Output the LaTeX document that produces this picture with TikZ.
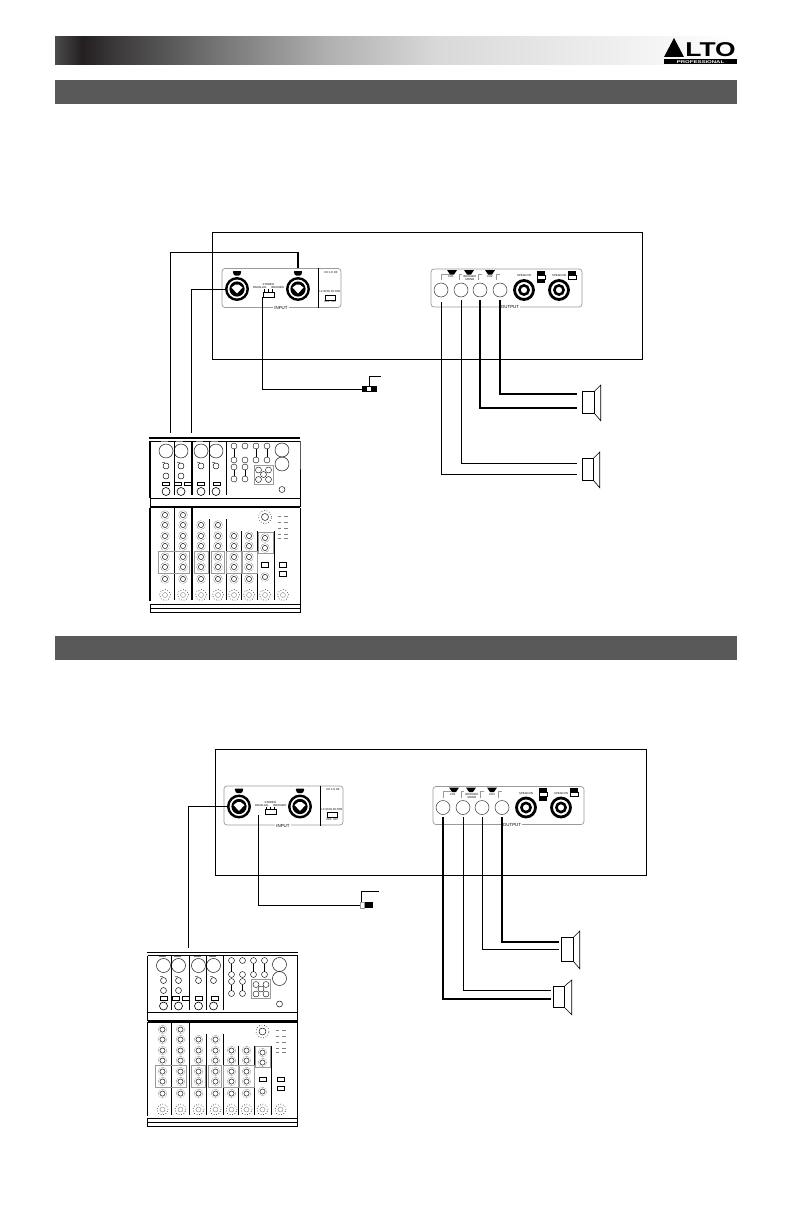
\documentclass[tikz,border=0pt]{standalone}
\usepackage{fontspec}
\setmainfont{Liberation Sans}
\usepackage{xcolor}
\usetikzlibrary{positioning,fit,calc}
\definecolor{bargray}{HTML}{595959}
\definecolor{panelgray}{HTML}{9A9A9A}
\pgfdeclarehorizontalshading{headshade}{100bp}{
  rgb(0bp)=(.30,.30,.30); rgb(25bp)=(.30,.30,.30); rgb(27bp)=(.14,.12,.13); rgb(29bp)=(.22,.21,.21);
  rgb(36bp)=(.43,.43,.43); rgb(45bp)=(.69,.69,.69); rgb(53bp)=(.85,.85,.85);
  rgb(65bp)=(.93,.93,.93); rgb(75bp)=(1,1,1); rgb(100bp)=(1,1,1)}
\tikzset{
  cable/.style={line width=.9pt},
  heavycable/.style={line width=1.2pt},
  panelbox/.style={draw=panelgray,line width=.7pt,rounded corners=3pt,inner sep=0pt,fill=white},
  tinytext/.style={font=\fontsize{2.8}{3}\selectfont,inner sep=0pt},
  legendtext/.style={font=\fontsize{4.4}{5}\selectfont,fill=white,inner sep=1pt},
  lowjack/.style={circle,draw=black!80,line width=.5pt,minimum size=14pt,inner sep=0pt},
  switchbox/.style={draw,fill=white,line width=.7pt,inner sep=0pt},
}
% one combo socket, with its latch on top
\newcommand\combojack[3]{
  \fill[rounded corners=1pt] (#2-4.5,#3-18) -- (#2+4.5,#3-18) -- (#2+3,#3-13.5) -- (#2-3,#3-13.5) -- cycle;
  \node[circle,draw,line width=2.4pt,fill=white,minimum size=21.5pt,inner sep=0pt] (#1) at (#2,#3) {};
  \fill (#2,#3) circle (7.6pt);
  \fill[white] (#2-5.5,#3-1.5) -- (#2-1.5,#3-4.5) -- (#2+1.5,#3-4.5) -- (#2+5.5,#3-1.5) -- (#2,#3+4.5) -- cycle;
}
\newcommand\speakon[3]{
  \node[circle,draw,line width=2.8pt,fill=white,minimum size=19pt,inner sep=0pt] (#1) at (#2,#3) {};
  \draw[line width=2.6pt] (#2,#3) circle (4.6pt);
}
% the input plate
\newcommand\inplate[3]{
  \begin{scope}[shift={(#2,#3)}]
    \node[panelbox,minimum width=119pt,minimum height=39pt] (#1) at (281.5,288) {};
    \draw[line width=.9pt] (318,268) -- (318,308);
    \combojack{#1l}{237}{289}
    \combojack{#1r}{298}{289}
    \node[switchbox,minimum width=11pt,minimum height=5pt] (#1sw) at (268.5,294.5) {};
    \node[switchbox,minimum width=10pt,minimum height=5pt] (#1lf) at (330,297.5) {};
    \foreach \sx in {264.5,268.5,272.5} \draw[line width=.4pt] (\sx,289) -- (\sx,292);
    \node[tinytext] (#1st) at (268.5,285) {STEREO};
    \node[tinytext] (#1pa) at (260,288) {PARALLEL};
    \node[tinytext] (#1br) at (278,288) {BRIDGED};
    \node[tinytext] (#1ch) at (331,272) {CH 1/2 HF};
    \node[tinytext] (#1fi) at (330,292) {LF 80Hz FILTER};
    \node[tinytext] (#1of) at (330,302) {OFF\ \ ON};
    \node[legendtext] (#1tx) at (281,308) {INPUT};
  \end{scope}
}
% the output plate
\newcommand\outplate[3]{
  \begin{scope}[shift={(#2,#3)}]
    \node[panelbox,minimum width=151pt,minimum height=38pt] (#1) at (506.5,288) {};
    \node[lowjack] (#1a) at (441,290) {};
    \node[lowjack] (#1b) at (461,290) {};
    \node[lowjack] (#1c) at (480,290) {};
    \node[lowjack] (#1d) at (500,290) {};
    \speakon{#1e}{524}{290}
    \speakon{#1f}{559}{290}
    \foreach \tx in {452,469,490} \fill (\tx-5,270) -- (\tx+5,270) -- (\tx+2,274.5) -- (\tx-2,274.5) -- cycle;
    \foreach \bx/\bw in {441/450,459/462,478/482,496/500} \draw[panelgray,line width=.4pt] (\bx,280) -- (\bx,274) -- (\bw,274);
    \foreach \bx in {541,572} \fill (\bx-4,270.5) rectangle (\bx+4,275);
    \fill (537,279) rectangle (545,283);
    \draw[line width=.4pt] (537,275) rectangle (545,279);
    \draw[line width=.4pt] (568,275) rectangle (576,279);
    \node[tinytext] (#1ca) at (451,277) {CH1};
    \node[tinytext,align=center] (#1cb) at (470,278.5) {BRIDGED\\MONO};
    \node[tinytext] (#1cc) at (490,277) {CH2};
    \node[tinytext] (#1sa) at (524,276) {SPEAKON};
    \node[tinytext] (#1sb) at (559,276) {SPEAKON};
    \node[legendtext] (#1tx) at (510,307) {OUTPUT};
  \end{scope}
}
% speaker: box, then the cone
\newcommand\speakerbox[6]{
  \node[draw,line width=.7pt,inner sep=0pt,minimum width=#4pt,minimum height=#5pt,anchor=north west] (#1) at (#2,#3) {};
  \draw[line width=.6pt] (#1.north east) -- ++(#6,-6) -- ($(#1.south east)+(#6,7)$) -- (#1.south east);
}
% the mixer
\newcommand\mixerfront[3]{
  \begin{scope}[shift={(#2,#3)}]
    \coordinate (#1a) at (170,433);
    \coordinate (#1b) at (191,433);
    \draw[line width=1.2pt] (149,438) -- (300,438);
    \draw[line width=.9pt] (150,441) -- (300,441);
    \draw[line width=1.2pt] (150,441) -- (150,498);
    \draw[line width=.6pt] (300,441) -- (300,498) -- (150,498) -- (150,506) -- (300,506) -- cycle;
    \draw[line width=1.2pt] (150,507.5) -- (300,507.5);
    \draw[line width=1.2pt] (150,507.5) -- (150,601);
    \draw[line width=.6pt] (300,507.5) -- (300,604);
    \draw[line width=.6pt] (150,604) rectangle (300,612);
    \draw[line width=.8pt] (150,608) -- (300,608);
    % back row
    \foreach \dx/\dw in {174/.9,192/1.4,209/.9,226/.9} \draw[line width=\dw pt] (\dx,441) -- (\dx,495);
    \foreach \kx in {166,181,201,216}{
      \draw[line width=.45pt] (\kx,451) circle (7pt);
      \draw[line width=.45pt] (\kx,466) circle (3pt);
      \draw[line width=.6pt] (\kx,491.5) circle (4pt);
      \draw[line width=.3pt,gray] (\kx-5,441.5) -- (\kx+2,441.5);
      \draw[line width=.3pt,gray] (\kx-4,462) -- (\kx-1,462);
    }
    \foreach \kx in {166,181} \draw[line width=.45pt] (\kx,476) circle (3pt);
    \foreach \sx in {166,178,188,201,217} \node[switchbox,line width=.6pt,minimum width=7pt,minimum height=3.5pt] (#1s\sx) at (\sx,484) {};
    \foreach \kx/\ky in {234/446,245/446,256/446,267/446,234/460,245/460,256/460,267/460,234/467,245/467,234/479,245/479}
      \draw[line width=.4pt] (\kx,\ky) circle (3pt);
    \foreach \kx/\ka/\kb in {234/449/457,256/449/457,267/449/457,234/470/476,245/470/476} \draw[line width=.6pt] (\kx,\ka) -- (\kx,\kb);
    \draw[panelgray,line width=.6pt] (254,465) rectangle (273,484);
    \foreach \kx/\ky in {258.5/470,268.5/470,263.5/474.5,258.5/479.5,268.5/479.5} \draw[line width=.4pt] (\kx,\ky) circle (3pt);
    \draw[line width=.45pt] (282,450) circle (7pt);
    \draw[line width=.45pt] (282,464) circle (7pt);
    \draw[line width=.45pt] (282,489.5) circle (3pt);
    % channel row
    \foreach \dx/\dy/\dw in {174/508/1,192/508/1.4,209/519/1,226/519/1,241/531/.8,257/531/1,274/531/1}
      \draw[line width=\dw pt] (\dx,\dy) -- (\dx,600);
    \foreach \gl/\gr in {158/189,194/208,211/224,226/241,242/257} \draw[panelgray,line width=.7pt] (\gl,551) rectangle (\gr,573);
    \foreach \cx/\cys in {165/{515,525,536,546,557,567,579},183/{515,525,536,546,557,567,579},201/{525,536,546,557,567,579},218/{525,536,546,557,567,579},234/{536,546,557,567,579},249/{536,546,557,567,579},265/{538,548,577}}
      \foreach \cy in \cys {
        \draw[line width=.45pt] (\cx,\cy) circle (2.6pt);
        \draw[line width=.35pt,densely dotted] (\cx,\cy) circle (4.4pt);
      }
    \foreach \cx in {165,183,201,218,234,249,265,283}{
      \draw[line width=.4pt,gray] (\cx,595) circle (2.5pt);
      \draw[line width=.6pt,dotted] (\cx,595) circle (5.5pt);
    }
    \foreach \sy in {565,574} \node[switchbox,line width=.6pt,minimum width=7pt,minimum height=4.5pt] (#1m\sy) at (283,\sy) {};
    \node[switchbox,line width=.6pt,minimum width=7pt,minimum height=4.5pt] (#1mm) at (265,565) {};
    \draw[panelgray,line width=.5pt] (258,532) rectangle (273,553);
    \draw[line width=.45pt] (265,517) circle (3.5pt);
    \draw[line width=.6pt,dotted] (265,517) circle (6.5pt);
    \foreach \ly in {516,522,528,534,538} {
      \draw[line width=.4pt,gray] (278,\ly) -- (281,\ly);
      \draw[line width=.4pt,gray] (284,\ly) -- (288,\ly);
    }
  \end{scope}
}
\begin{document}
\begin{tikzpicture}[x=1pt,y=-1pt]
  \useasboundingbox (0,0) rectangle (793,1225);
  % header
  \shade[shading=headshade] (55,37) rectangle (737,65);
  \fill (664,57) -- (674,38) -- (684,57) -- cycle;
  \node[font=\bfseries\fontsize{20}{20}\selectfont,xscale=1.32,inner sep=0pt] (logotext) at (710.5,50) {LTO};
  \fill (664,59.5) rectangle (737,64);
  \node[font=\bfseries\fontsize{4}{4}\selectfont,text=white,inner sep=0pt,xscale=1.5] (logosub) at (700.5,61.7) {PROFESSIONAL};
  \fill[bargray] (55,80) rectangle (737,104);
  \fill[bargray] (55,636) rectangle (737,660);

  % first hookup
  \draw[line width=.9pt] (212,232) rectangle (642,359);
  \inplate{inA}{0}{0}
  \outplate{outA}{0}{0}
  \speakerbox{spkA}{582}{391}{12}{22}{6}
  \speakerbox{spkB}{582}{458}{11}{22}{6}
  \mixerfront{mixA}{0}{0}
  \node[inner sep=0pt,fill=black,minimum width=15pt,minimum height=6pt] (plugA) at (369.5,389) {};
  \fill[white] (367,387) rectangle (371,391);
  \coordinate (markA) at (381,376);
  \coordinate (endAa) at (577,394);
  \coordinate (endAb) at (577,408);
  \coordinate (endAc) at (577,463);
  \coordinate (endAd) at (577,474);
  \draw[cable] (inAr |- inA.north) -- ++(0,-16) -| (mixAa);
  \draw[line width=1.8pt] (inAr |- inA.north) -- ++(0,-16);
  \draw[cable] (inAl.west) -| (mixAb);
  \draw[cable] (inAsw.south west) |- (plugA.west);
  \draw[cable] (plugA.north) |- (markA);
  \draw[cable] ([yshift=-5pt]outAa.south) |- (endAd);
  \draw[cable] ([yshift=-3pt]outAb.south) |- (endAc);
  \draw[heavycable] ([yshift=-3pt]outAc.south) |- (endAb);
  \draw[heavycable] ([yshift=-3pt]outAd.south) |- (endAa);

  % second hookup
  \draw[line width=.9pt] (215,749) rectangle (646,875);
  \inplate{inB}{2}{517.5}
  \outplate{outB}{2}{517.5}
  \speakerbox{spkC}{561}{937}{12}{24}{6}
  \speakerbox{spkD}{553}{986}{11}{21}{7}
  \mixerfront{mixB}{-2.5}{514.5}
  \node[inner sep=0pt,fill=black,minimum width=13pt,minimum height=6pt] (plugB) at (366.5,905) {};
  \fill[white,draw=panelgray,line width=.4pt] (360.3,902.3) rectangle (364,907.7);
  \coordinate (markB) at (379,891);
  \coordinate (endBa) at (559,942);
  \coordinate (endBb) at (559,949);
  \coordinate (endBc) at (551,990);
  \coordinate (endBd) at (551,999);
  \draw[cable] (inBl.west) -| (mixBb);
  \draw[cable] ([xshift=-6pt]inBsw.south west) |- (plugB.west);
  \draw[cable] ([xshift=2pt]plugB.north west) |- (markB);
  \draw[heavycable] ([yshift=-2pt]outBa.south) |- (endBd);
  \draw[cable] ([yshift=-2pt]outBb.south) |- (endBc);
  \draw[cable] ([yshift=-2pt]outBc.south) |- (endBb);
  \draw[heavycable] ([yshift=-2pt]outBd.south) |- (endBa);
\end{tikzpicture}
\end{document}
